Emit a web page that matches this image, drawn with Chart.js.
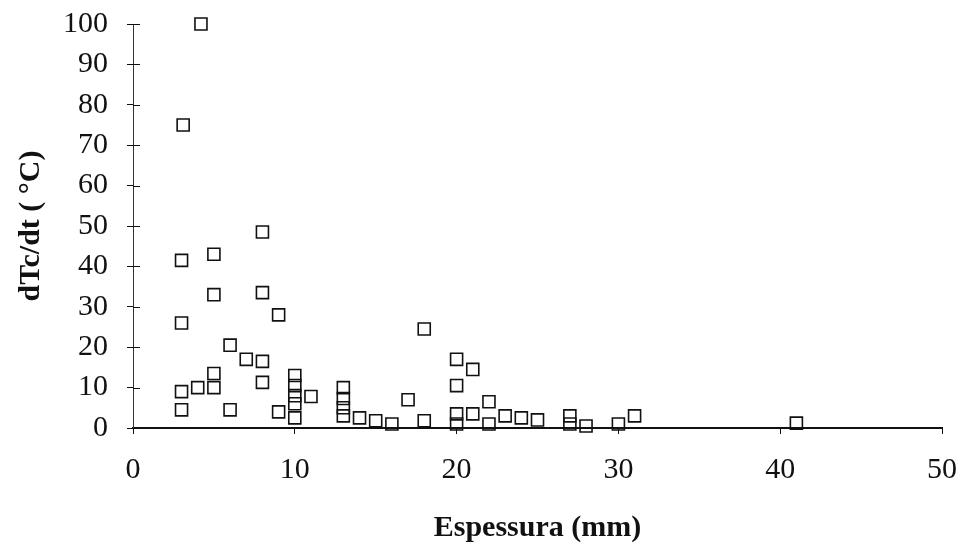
<!DOCTYPE html>
<html><head><meta charset="utf-8">
<script src="https://cdn.jsdelivr.net/npm/chart.js@4"></script>
<style>html,body{margin:0;padding:0;background:#fff;overflow:hidden;}</style>
</head><body>
<canvas id="c" width="956" height="553"></canvas>
<script>
// Espessura (mm)
const espessura = [3.1, 3, 3, 3, 3,
  4.2, 4,
  5, 5, 5, 5,
  6, 6,
  7,
  8, 8, 8, 8,
  9, 9,
  10, 10, 10, 10, 10,
  11,
  13, 13, 13, 13,
  14, 15, 16, 17, 18, 18,
  20, 20, 20, 20,
  21, 21,
  22, 22,
  23, 24, 25,
  27, 27, 28, 30, 31, 41];
// dTc/dt (°C)
const dTcdt = [75, 41.5, 26, 9, 4.5,
  100, 10,
  43, 33, 13.5, 10,
  20.5, 4.5,
  17,
  48.5, 33.5, 16.5, 11.3,
  28, 4,
  13, 10.5, 8, 6, 2.5,
  7.8,
  10, 7.3, 5, 3,
  2.5, 1.8, 1, 7, 24.5, 1.8,
  17, 10.5, 3.5, 1,
  14.5, 3.5,
  6.5, 1,
  3, 2.5, 2,
  3, 1, 0.5, 1, 3, 1.2];
const xTicks = [0, 10, 20, 30, 40, 50];
const yTicks = [0, 10, 20, 30, 40, 50, 60, 70, 80, 90, 100];
const xTitle = 'Espessura (mm)';
const yTitle = 'dTc/dt ( °C)';

const points = espessura.map((x, i) => ({ x: x, y: dTcdt[i] }));
const INK = '#111';
const SERIF = "'Liberation Serif', 'DejaVu Serif', serif";

function noPad(s) { s.paddingTop = 0; s.paddingBottom = 0; s.paddingLeft = 0; s.paddingRight = 0; }

const innerTicks = {
  id: 'innerTicks',
  afterDraw(chart) {
    const { ctx, scales: { x, y } } = chart;
    ctx.save();
    ctx.strokeStyle = INK;
    ctx.lineWidth = 1;
    yTicks.forEach(v => {
      const py = Math.round(y.getPixelForValue(v)) + 0.5;
      ctx.beginPath();
      ctx.moveTo(x.left, py);
      ctx.lineTo(x.left + 7, py);
      ctx.stroke();
    });
    ctx.restore();
  }
};

new Chart(document.getElementById('c'), {
  type: 'scatter',
  data: {
    datasets: [{
      data: points,
      pointStyle: 'rect',
      pointRadius: 8.5,
      pointHoverRadius: 8.5,
      borderWidth: 1.6,
      borderColor: INK,
      backgroundColor: 'rgba(0,0,0,0)',
      clip: false
    }]
  },
  options: {
    responsive: false,
    animation: false,
    events: [],
    layout: { padding: { top: 24, right: 14, left: 0, bottom: 0 } },
    plugins: { legend: { display: false }, tooltip: { enabled: false } },
    scales: {
      x: {
        type: 'linear', min: 0, max: 50,
        afterBuildTicks: s => { s.ticks = xTicks.map(v => ({ value: v })); },
        afterFit: s => { s.height = 125; noPad(s); },
        grid: { display: true, drawOnChartArea: false, drawTicks: true, tickLength: 6, color: INK, lineWidth: 1 },
        border: { display: true, color: INK, width: 2 },
        ticks: { font: { family: SERIF, size: 30 }, color: INK, padding: 18, maxRotation: 0 },
        title: { display: true, text: xTitle, color: INK, font: { family: SERIF, size: 30, weight: 'bold' }, padding: { top: 0, bottom: 7 } }
      },
      y: {
        type: 'linear', min: 0, max: 100,
        afterBuildTicks: s => { s.ticks = yTicks.map(v => ({ value: v })); },
        afterFit: s => { s.width = 133; noPad(s); },
        grid: { display: true, drawOnChartArea: false, drawTicks: true, tickLength: 6, color: INK, lineWidth: 1 },
        border: { display: true, color: '#333', width: 1, dash: [3, 2] },
        ticks: { font: { family: SERIF, size: 30 }, color: INK, padding: 19 },
        title: { display: true, text: yTitle, color: INK, font: { family: SERIF, size: 30, weight: 'bold' }, padding: { top: 13, bottom: 0 } }
      }
    }
  },
  plugins: [innerTicks]
});
</script>
</body></html>
